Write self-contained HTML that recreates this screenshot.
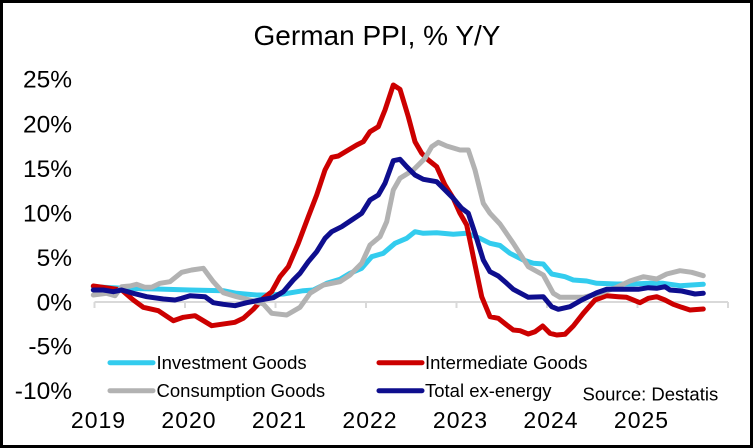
<!DOCTYPE html>
<html>
<head>
<meta charset="utf-8">
<style>
  html,body{margin:0;padding:0;background:#fff;}
  body{width:753px;height:448px;overflow:hidden;position:relative;}
  svg{position:absolute;left:0;top:0;}
  text{font-family:"Liberation Sans",Arial,sans-serif;fill:#000;}
</style>
</head>
<body>
<svg width="753" height="448" viewBox="0 0 753 448" xmlns="http://www.w3.org/2000/svg">
  <rect x="0" y="0" width="753" height="448" fill="#fff"/>
  <rect x="1.5" y="1.5" width="750" height="445" fill="none" stroke="#000" stroke-width="3"/>

  <!-- Title -->
  <text x="377" y="45" font-size="28" text-anchor="middle">German PPI, % Y/Y</text>

  <!-- Y labels -->
  <g font-size="24.5" text-anchor="end">
    <text x="72" y="87.5">25%</text>
    <text x="72" y="132.5">20%</text>
    <text x="72" y="177">15%</text>
    <text x="72" y="221.5">10%</text>
    <text x="72" y="266">5%</text>
    <text x="72" y="310.5">0%</text>
    <text x="72" y="354.5">-5%</text>
    <text x="72" y="399">-10%</text>
  </g>

  <!-- X axis -->
  <g stroke="#d9d9d9" stroke-width="2" fill="none">
    <line x1="94.5" y1="302" x2="728" y2="302"/>
    <line x1="94.5" y1="302" x2="94.5" y2="308"/>
    <line x1="185" y1="302" x2="185" y2="308"/>
    <line x1="275.5" y1="302" x2="275.5" y2="308"/>
    <line x1="366" y1="302" x2="366" y2="308"/>
    <line x1="456.5" y1="302" x2="456.5" y2="308"/>
    <line x1="547" y1="302" x2="547" y2="308"/>
    <line x1="637.5" y1="302" x2="637.5" y2="308"/>
    <line x1="728" y1="302" x2="728" y2="308"/>
  </g>

  <!-- X labels -->
  <g font-size="23" text-anchor="middle" letter-spacing="1">
    <text x="98.5" y="428">2019</text>
    <text x="189" y="428">2020</text>
    <text x="279.5" y="428">2021</text>
    <text x="370" y="428">2022</text>
    <text x="460.5" y="428">2023</text>
    <text x="551" y="428">2024</text>
    <text x="641.5" y="428">2025</text>
  </g>

  <!-- Series -->
  <g fill="none" stroke-width="5" stroke-linejoin="round" stroke-linecap="round">
    <!-- Investment Goods -->
    <polyline stroke="#33ccee" points="93.3,286.7 123.3,288.3 156.7,289 190,290 223.3,290.7 236.7,293.3 256.7,295 270,295 283.3,294 303.3,290.7 313.3,290 326.7,283.3 340,279.3 350,273.3 361.7,268.3 371.7,256.7 383.3,253.3 395,243.3 406.7,238.3 415,231.7 423.3,233.3 436.7,232.7 453.3,234.3 466.7,233.3 480,238.3 490,243.3 500,245.5 510,253.3 523.3,260 533.3,263.3 543.3,264 551.7,274 565,276.7 573.3,280 586.7,281 596.7,283.3 616.7,284 633.3,284 650,283.3 663.3,283.3 680,285.7 703.3,284.3"/>
    <!-- Intermediate Goods -->
    <polyline stroke="#cc0000" points="93.3,286 121.7,290 133.3,300 143.3,307.3 158.3,310.7 173.3,320.7 183.3,317.3 195,315.7 211.7,325.7 235,322.3 243.3,318.3 253.3,309.3 263.3,298.3 271.7,291.7 280,276.7 288.3,266.7 298.3,243.3 308.3,216.7 316.7,195 325,170 331.7,157.3 338.3,156 348.3,150 356.7,145 363.3,141.7 370,131.7 378.3,126.7 385,110 393.3,85 400,89.3 408.3,116.7 415,141.7 421.7,153.3 428.3,160 436.7,166.7 445,185 453.3,198.3 460,213.3 466.7,225 473.3,256.7 481.7,296.7 490,316.7 498.3,318.3 506.7,325 513.3,330 520,330.7 528.3,334 535,331.7 542.7,326 550,333.3 556.7,335 565,334.3 573.3,326 583.3,313.3 595,300 606.7,295.7 618.3,296.7 626.7,297.3 640,302.7 648.3,298.3 656.7,296.7 665,300 673.3,304.3 681.7,307.3 690,310 703.3,309"/>
    <!-- Consumption Goods -->
    <polyline stroke="#b2b2b2" points="93.3,295 106.7,293.3 115,295.7 121.7,286.7 130,286 136.7,284.3 145,287.3 151.7,287.3 160,283.3 170,281.7 181.7,272.3 191.7,270 203.3,268.3 213.3,281.7 223.3,292.7 236.7,296.7 250,300 263.3,304 271.7,313.3 286.7,315 300,307.3 310,293.3 323.3,285 340,281.7 350,275 361.7,263.3 370,245 380,236.7 386.7,221.7 393.3,190 400,178.3 413.3,170 425,158.3 431.7,146.7 438.3,142.3 446.7,146 460,150 468.3,150 475,170 483.3,203.3 490,213.3 500,224 513.3,243.3 528.3,266.7 543.3,275 553.3,293.3 560,297.3 583.3,297.3 600,293.3 616.7,287.3 630,281 643.3,276.7 656.7,279 666.7,274 680,270.7 691.7,272.3 703.3,275.7"/>
    <!-- Total ex-energy -->
    <polyline stroke="#0e0e8e" points="93.3,290 103.3,290 113.3,291.7 121.7,290 133.3,293.3 146.7,296.7 163.3,299 175,300 181.7,298.3 190,295.7 205,296.7 213.3,302.7 223.3,304.3 235,305.7 246.7,302.7 260,300 273.3,297.7 283.3,291.7 293.3,280 300,273.3 308.3,261.7 316.7,251.7 325,238.3 331.7,231.7 341.7,226.7 351.7,220 361.7,213.3 370,200 378.3,195 385,183.3 393.3,160.7 400,159.3 406.7,166.7 415,175 423.3,179.3 436.7,181.7 445,190 453.3,198.3 461.7,208.3 468.3,213.3 475,233.3 483.3,260 490,271.7 498.3,276 506.7,283.3 513.3,289.3 528.3,297.3 543.3,296.7 551.7,306.7 558.3,309.3 570,306.7 581.7,300 596.7,292.7 606.7,289.3 638.3,289.3 648.3,287.7 656.7,288.3 665,286.7 670,290 681.7,291 695,294 703.3,293.3"/>
  </g>

  <!-- Legend -->
  <g stroke-width="5" stroke-linecap="round">
    <line x1="110" y1="362.7" x2="153" y2="362.7" stroke="#33ccee"/>
    <line x1="110" y1="390.7" x2="153" y2="390.7" stroke="#b2b2b2"/>
    <line x1="379" y1="362.7" x2="422" y2="362.7" stroke="#cc0000"/>
    <line x1="379" y1="390.7" x2="422" y2="390.7" stroke="#0e0e8e"/>
  </g>
  <g font-size="18.5">
    <text x="156.5" y="369">Investment Goods</text>
    <text x="156.5" y="397">Consumption Goods</text>
    <text x="425" y="369">Intermediate Goods</text>
    <text x="425" y="397">Total ex-energy</text>
    <text x="582.5" y="400.5">Source: Destatis</text>
  </g>
</svg>
</body>
</html>
